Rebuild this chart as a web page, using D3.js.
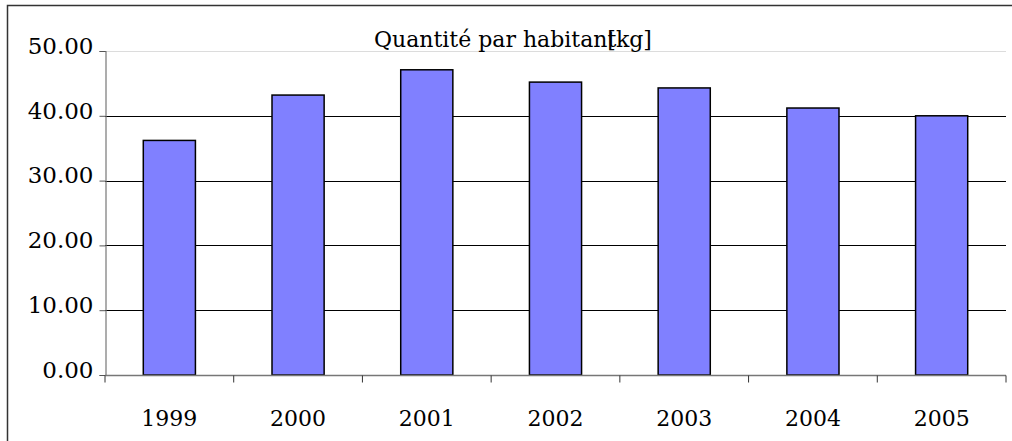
<!DOCTYPE html>
<html>
<head>
<meta charset="utf-8">
<script src="https://cdn.jsdelivr.net/npm/d3@7"></script>
<style>
    html, body { margin: 0; padding: 0; background: #fff; overflow: hidden; }
    svg { display: block; }
    text { font-family: "DejaVu Serif", serif; fill: #000; }
</style>
</head>
<body>
<script>
// values
const years = ["1999", "2000", "2001", "2002", "2003", "2004", "2005"];
const quantite = [36.2, 43.2, 47.1, 45.2, 44.3, 41.2, 40.0];
const yTicks = [0, 10, 20, 30, 40, 50];
const titleMain = "Quantité par habitant";
const titleUnit = "[kg]";

const W = 1012, H = 441;
const margin = { top: 51, right: 6, bottom: 66, left: 105 };
const serif = "'DejaVu Serif', serif";

const svg = d3.select("body").append("svg")
    .attr("width", W)
    .attr("height", H);

// outer frame: only its top and left edges are inside the picture
svg.append("path")
    .attr("d", "M7.5," + H + "V5.5H" + W)
    .attr("fill", "none")
    .attr("stroke", "#333")
    .attr("stroke-width", 1.5);

const x = d3.scaleBand().domain(years).range([margin.left, W - margin.right]).padding(0);
const y = d3.scaleLinear().domain([0, 50]).range([H - margin.bottom, margin.top]);

// grid lines
svg.append("g")
    .selectAll("line")
    .data(yTicks.filter(d => d > 0))
    .enter().append("line")
    .attr("x1", margin.left)
    .attr("x2", W - margin.right)
    .attr("y1", d => Math.round(y(d)) + 0.5)
    .attr("y2", d => Math.round(y(d)) + 0.5)
    .attr("stroke", d => d === 50 ? "#dcdcdc" : "#000")
    .attr("stroke-width", 1);

// bars
const barFrac = 0.405;
svg.append("g")
    .selectAll("rect")
    .data(years)
    .enter().append("rect")
    .attr("x", d => x(d) + x.bandwidth() * (1 - barFrac) / 2)
    .attr("y", (d, i) => y(quantite[i]))
    .attr("width", x.bandwidth() * barFrac)
    .attr("height", (d, i) => y(0) - y(quantite[i]))
    .attr("fill", "#8080ff")
    .attr("stroke", "#000")
    .attr("stroke-width", 1.5);

// y axis
const yAxis = d3.axisLeft(y).tickValues(yTicks).tickSize(6).tickFormat(d3.format(".2f"));
const gy = svg.append("g")
    .attr("transform", "translate(" + (margin.left + 0.5) + ",0)")
    .call(yAxis);
gy.select(".domain").attr("stroke", "#777").attr("stroke-width", 1.2);
gy.selectAll(".tick line").attr("stroke", "#555");
gy.selectAll(".tick text")
    .attr("x", -12)
    .attr("dy", "0.1em")
    .style("font-size", "23px")
    .style("font-family", serif);

// x axis: ticks at category boundaries
const gx = svg.append("g")
    .attr("transform", "translate(0," + (y(0) + 0.5) + ")");
gx.append("line")
    .attr("x1", margin.left).attr("x2", W - margin.right)
    .attr("stroke", "#777").attr("stroke-width", 1.5);
gx.selectAll("line.tk")
    .data(years.concat(["end"]))
    .enter().append("line")
    .attr("class", "tk")
    .attr("x1", (d, i) => x.range()[0] + i * x.step())
    .attr("x2", (d, i) => x.range()[0] + i * x.step())
    .attr("y1", 0).attr("y2", 7)
    .attr("stroke", "#333");
gx.selectAll("text")
    .data(years)
    .enter().append("text")
    .attr("x", d => x(d) + x.bandwidth() / 2)
    .attr("y", 50)
    .attr("text-anchor", "middle")
    .style("font-size", "22px")
    .style("font-family", serif)
    .text(d => d);

// title, the unit overlaps the last letter like in the original
const title = svg.append("text")
    .attr("x", 374)
    .attr("y", 47)
    .style("font-size", "22px")
    .style("font-family", serif);
title.append("tspan").text(titleMain);
title.append("tspan").attr("dx", -9).text(titleUnit);
</script>
</body>
</html>
